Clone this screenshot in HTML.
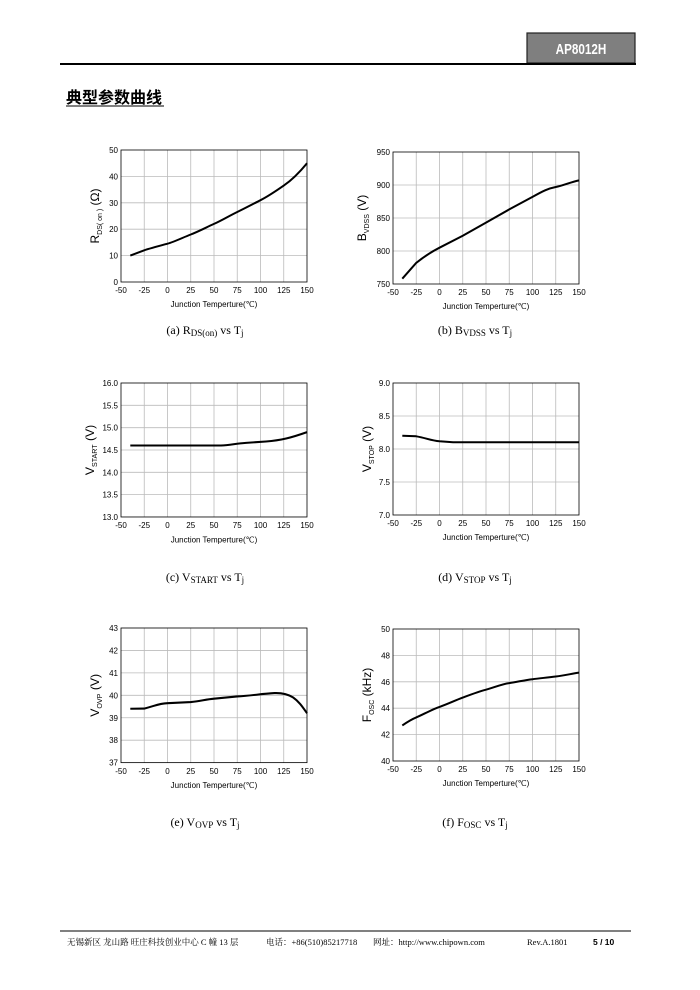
<!DOCTYPE html>
<html><head><meta charset="utf-8"><style>
body{margin:0;background:#fff;}
svg{display:block}
.t{font-family:"Liberation Sans",sans-serif;font-size:8px;fill:#000}
.c{font-family:"Liberation Serif",serif;font-size:12px;fill:#000}
.g line{stroke:#bbb;stroke-width:0.8}
.cv{fill:none;stroke:#000;stroke-width:2}
</style></head><body>
<svg width="700" height="990" viewBox="0 0 700 990" xmlns="http://www.w3.org/2000/svg">
<rect x="527" y="33" width="108" height="30" fill="#7f7f7f" stroke="#222" stroke-width="1.2"/>
<text transform="translate(581,54) scale(0.78,1)" text-anchor="middle" font-family="Liberation Sans,sans-serif" font-weight="bold" font-size="15" fill="#fff">AP8012H</text>
<line x1="60" y1="64" x2="636" y2="64" stroke="#000" stroke-width="2"/>
<text x="66" y="103" font-family="Liberation Sans,'Noto Sans CJK SC',sans-serif" font-weight="bold" font-size="16" fill="#000">典型参数曲线</text>
<line x1="66" y1="106" x2="164" y2="106" stroke="#000" stroke-width="1"/>

<defs>
<g id="grid">
<g class="g">
<line x1="23.25" y1="0" x2="23.25" y2="132"/><line x1="46.5" y1="0" x2="46.5" y2="132"/><line x1="69.75" y1="0" x2="69.75" y2="132"/><line x1="93" y1="0" x2="93" y2="132"/><line x1="116.25" y1="0" x2="116.25" y2="132"/><line x1="139.5" y1="0" x2="139.5" y2="132"/><line x1="162.75" y1="0" x2="162.75" y2="132"/>
</g>
<rect x="0" y="0" width="186" height="132" fill="none" stroke="#000" stroke-width="0.8"/>
<text class="t" y="143" text-anchor="middle"><tspan x="0">-50</tspan><tspan x="23.25">-25</tspan><tspan x="46.5">0</tspan><tspan x="69.75">25</tspan><tspan x="93">50</tspan><tspan x="116.25">75</tspan><tspan x="139.5">100</tspan><tspan x="162.75">125</tspan><tspan x="186">150</tspan></text>
<text class="t" x="93" y="157" text-anchor="middle">Junction Temperture(℃)</text>
</g>
</defs>

<!-- a -->
<g transform="translate(121,150)">
<g class="g"><line x1="0" y1="26.4" x2="186" y2="26.4"/><line x1="0" y1="52.8" x2="186" y2="52.8"/><line x1="0" y1="79.2" x2="186" y2="79.2"/><line x1="0" y1="105.6" x2="186" y2="105.6"/></g>
<use href="#grid"/>
<g class="t" text-anchor="end"><text x="-3" y="3">50</text><text x="-3" y="29.4">40</text><text x="-3" y="55.8">30</text><text x="-3" y="82.2">20</text><text x="-3" y="108.6">10</text><text x="-3" y="135">0</text></g>
<text transform="translate(-22,66) rotate(-90)" text-anchor="middle" font-family="Liberation Sans,sans-serif" font-size="12">R<tspan font-size="7" dy="3">DS( on )</tspan><tspan dy="-3"> (Ω)</tspan></text>
<path class="cv" d="M9.3,105.6 C16,103 20,101.5 23.25,100.3 S40,95.5 46.5,93.7 S62,87.5 69.75,84.5 S85,77.5 93,73.9 S108,66 116.25,62 S132,54 139.5,50.2 S155,41 162.75,35.6 S178,23 186,13.2"/>
</g>
<text class="c" x="205" y="334" text-anchor="middle">(a) R<tspan font-size="9" dy="2">DS(on)</tspan><tspan dy="-2"> vs T</tspan><tspan font-size="9" dy="2">j</tspan></text>

<!-- b -->
<g transform="translate(393,152)">
<g class="g"><line x1="0" y1="33" x2="186" y2="33"/><line x1="0" y1="66" x2="186" y2="66"/><line x1="0" y1="99" x2="186" y2="99"/></g>
<use href="#grid"/>
<g class="t" text-anchor="end"><text x="-3" y="3">950</text><text x="-3" y="36">900</text><text x="-3" y="69">850</text><text x="-3" y="102">800</text><text x="-3" y="135">750</text></g>
<text transform="translate(-27,66) rotate(-90)" text-anchor="middle" font-family="Liberation Sans,sans-serif" font-size="12">B<tspan font-size="7" dy="3">VDSS</tspan><tspan dy="-3"> (V)</tspan></text>
<path class="cv" d="M9.3,126.7 L23.25,110.9 C33,103 40,99 46.5,95.7 L69.75,83.8 L93,70.6 L116.25,57.4 L139.5,44.9 C150,39 155,36.5 162.75,35 S178,30 186,28.4"/>
</g>
<text class="c" x="475" y="334" text-anchor="middle">(b) B<tspan font-size="9" dy="2">VDSS</tspan><tspan dy="-2"> vs T</tspan><tspan font-size="9" dy="2">j</tspan></text>

<!-- c -->
<g transform="translate(121,383) scale(1,1.015)">
<g class="g"><line x1="0" y1="22" x2="186" y2="22"/><line x1="0" y1="44" x2="186" y2="44"/><line x1="0" y1="66" x2="186" y2="66"/><line x1="0" y1="88" x2="186" y2="88"/><line x1="0" y1="110" x2="186" y2="110"/></g>
<use href="#grid"/>
<g class="t" text-anchor="end"><text x="-3" y="3">16.0</text><text x="-3" y="25">15.5</text><text x="-3" y="47">15.0</text><text x="-3" y="69">14.5</text><text x="-3" y="91">14.0</text><text x="-3" y="113">13.5</text><text x="-3" y="135">13.0</text></g>
<text transform="translate(-27,66) rotate(-90)" text-anchor="middle" font-family="Liberation Sans,sans-serif" font-size="12">V<tspan font-size="7" dy="3">START</tspan><tspan dy="-3"> (V)</tspan></text>
<path class="cv" d="M9.3,61.6 L100,61.6 C110,61 115,59.6 125,59 L145,57.6 C160,56.5 170,54 186,48.4"/>
</g>
<text class="c" x="205" y="581" text-anchor="middle">(c) V<tspan font-size="9" dy="2">START</tspan><tspan dy="-2"> vs T</tspan><tspan font-size="9" dy="2">j</tspan></text>

<!-- d -->
<g transform="translate(393,383)">
<g class="g"><line x1="0" y1="33" x2="186" y2="33"/><line x1="0" y1="66" x2="186" y2="66"/><line x1="0" y1="99" x2="186" y2="99"/></g>
<use href="#grid"/>
<g class="t" text-anchor="end"><text x="-3" y="3">9.0</text><text x="-3" y="36">8.5</text><text x="-3" y="69">8.0</text><text x="-3" y="102">7.5</text><text x="-3" y="135">7.0</text></g>
<text transform="translate(-22,66) rotate(-90)" text-anchor="middle" font-family="Liberation Sans,sans-serif" font-size="12">V<tspan font-size="7" dy="3">STOP</tspan><tspan dy="-3"> (V)</tspan></text>
<path class="cv" d="M9.3,52.8 L23.25,53.3 C33,55 38,57.5 46.5,58.3 L60,59.2 L186,59.2"/>
</g>
<text class="c" x="475" y="581" text-anchor="middle">(d) V<tspan font-size="9" dy="2">STOP</tspan><tspan dy="-2"> vs T</tspan><tspan font-size="9" dy="2">j</tspan></text>

<!-- e -->
<g transform="translate(121,628) scale(1,1.02)">
<g class="g"><line x1="0" y1="22" x2="186" y2="22"/><line x1="0" y1="44" x2="186" y2="44"/><line x1="0" y1="66" x2="186" y2="66"/><line x1="0" y1="88" x2="186" y2="88"/><line x1="0" y1="110" x2="186" y2="110"/></g>
<use href="#grid"/>
<g class="t" text-anchor="end"><text x="-3" y="3">43</text><text x="-3" y="25">42</text><text x="-3" y="47">41</text><text x="-3" y="69">40</text><text x="-3" y="91">39</text><text x="-3" y="113">38</text><text x="-3" y="135">37</text></g>
<text transform="translate(-22,66) rotate(-90)" text-anchor="middle" font-family="Liberation Sans,sans-serif" font-size="12">V<tspan font-size="7" dy="3">OVP</tspan><tspan dy="-3"> (V)</tspan></text>
<path class="cv" d="M9.3,79.2 L23.25,79 C35,76 38,74 46.5,73.7 L69.75,72.6 C80,71.5 85,70 93,69.3 L116.25,67.1 C130,66.5 140,64.5 153.5,63.8 C162,63.5 167,65 172,68 C178,72 182,78 186,83.6"/>
</g>
<text class="c" x="205" y="826" text-anchor="middle">(e) V<tspan font-size="9" dy="2">OVP</tspan><tspan dy="-2"> vs T</tspan><tspan font-size="9" dy="2">j</tspan></text>

<!-- f -->
<g transform="translate(393,629)">
<g class="g"><line x1="0" y1="26.4" x2="186" y2="26.4"/><line x1="0" y1="52.8" x2="186" y2="52.8"/><line x1="0" y1="79.2" x2="186" y2="79.2"/><line x1="0" y1="105.6" x2="186" y2="105.6"/></g>
<use href="#grid"/>
<g class="t" text-anchor="end"><text x="-3" y="3">50</text><text x="-3" y="29.4">48</text><text x="-3" y="55.8">46</text><text x="-3" y="82.2">44</text><text x="-3" y="108.6">42</text><text x="-3" y="135">40</text></g>
<text transform="translate(-22,66) rotate(-90)" text-anchor="middle" font-family="Liberation Sans,sans-serif" font-size="12">F<tspan font-size="7" dy="3">OSC</tspan><tspan dy="-3"> (kHz)</tspan></text>
<path class="cv" d="M9.3,96.4 C15,92.5 18,90.5 23.25,88.4 S40,80 46.5,77.9 S62,71.5 69.75,68.6 S85,62.8 93,60.7 S108,55.3 116.25,54.1 S132,51 139.5,50.2 S155,48.3 162.75,47.5 S178,44.8 186,43.6"/>
</g>
<text class="c" x="475" y="826" text-anchor="middle">(f) F<tspan font-size="9" dy="2">OSC</tspan><tspan dy="-2"> vs T</tspan><tspan font-size="9" dy="2">j</tspan></text>

<line x1="60" y1="931" x2="631" y2="931" stroke="#000" stroke-width="1"/>
<g font-family="Liberation Serif,'Noto Serif CJK SC',serif" font-size="8.5" fill="#000">
<text x="67" y="945">无锡新区 龙山路 旺庄科技创业中心 C 幢 13 层</text>
<text x="266" y="945">电话：+86(510)85217718</text>
<text x="373" y="945">网址：http://www.chipown.com</text>
<text x="527" y="945">Rev.A.1801</text>
</g>
<text x="593" y="945" font-family="Liberation Sans,sans-serif" font-weight="bold" font-size="8.5" fill="#000">5 / 10</text>
</svg>
</body></html>
